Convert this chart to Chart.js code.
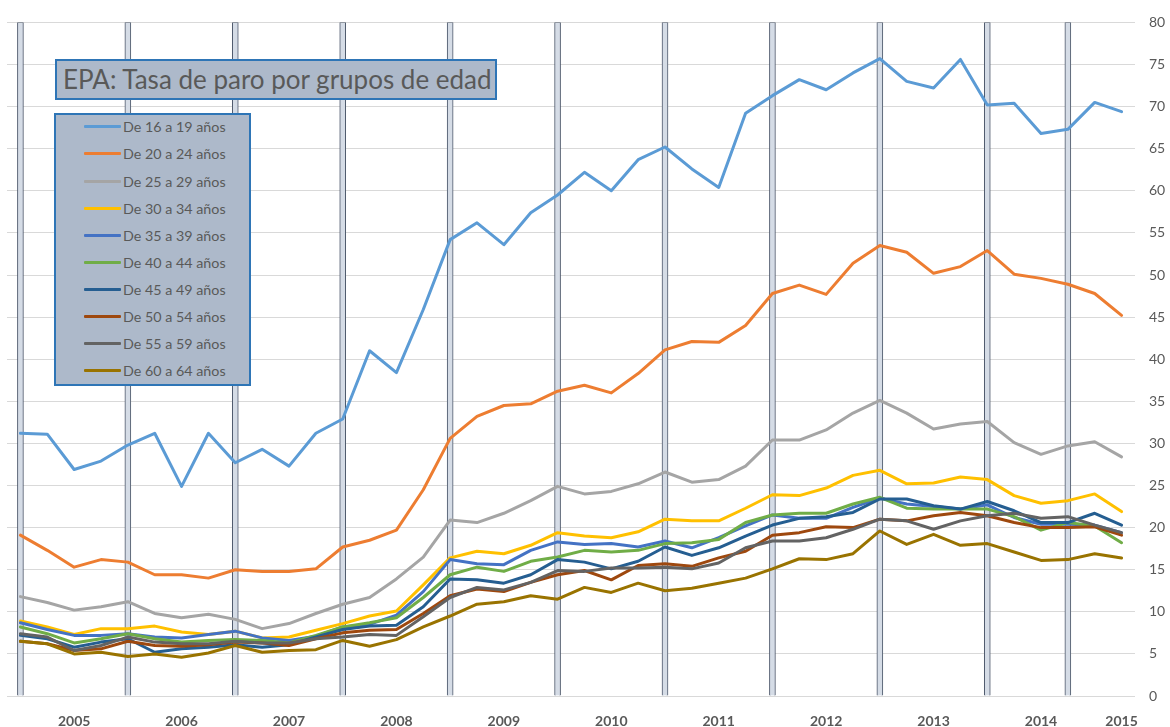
<!DOCTYPE html>
<html><head><meta charset="utf-8">
<script src="https://cdn.jsdelivr.net/npm/chart.js@4.4.0/dist/chart.umd.min.js"></script>
<style>
html,body{margin:0;padding:0;background:#fff;}
#wrap{position:relative;width:1170px;height:727px;overflow:hidden;}
#chart{position:absolute;left:0;top:0;}
#title{position:absolute;left:55px;top:59px;width:442px;height:41px;box-sizing:border-box;background:#adb9ca;border:2px solid #2e75b6;font-family:Lato,'Open Sans',sans-serif;font-size:26px;color:#595959;line-height:36px;padding-left:6px;white-space:nowrap;}
#legend{position:absolute;left:54px;top:113px;width:197px;height:273px;box-sizing:border-box;background:#adb9ca;border:2px solid #2e75b6;font-family:Lato,'Open Sans',sans-serif;font-size:14.3px;color:#595959;}
.row{position:absolute;left:0;height:20px;line-height:20px;white-space:nowrap;}
.sw{position:absolute;left:28px;top:8px;width:37px;height:3px;border-radius:1px;}
.lt{position:absolute;left:67px;top:0;}
</style></head>
<body>
<div id="wrap">
<canvas id="chart" width="1170" height="727"></canvas>
<div id="title">EPA: Tasa de paro por grupos de edad</div>
<div id="legend"></div>
</div>
<script>
const tickLabels = ['', '', '2005', '', '', '', '2006', '', '', '', '2007', '', '', '', '2008', '', '', '', '2009', '', '', '', '2010', '', '', '', '2011', '', '', '', '2012', '', '', '', '2013', '', '', '', '2014', '', '', '2015'];

const yearMarks = [80,null,null,null,80,null,null,null,80,null,null,null,80,null,null,null,80,null,null,null,80,null,null,null,80,null,null,null,80,null,null,null,80,null,null,null,80,null,null,80,null,null];

const seriesNames = ['De 16 a 19 años','De 20 a 24 años','De 25 a 29 años','De 30 a 34 años','De 35 a 39 años','De 40 a 44 años','De 45 a 49 años','De 50 a 54 años','De 55 a 59 años','De 60 a 64 años'];

const y1619 = [31.2,31.1,26.9,27.9,29.8,31.2,24.9,31.2,27.7,29.3,27.3,31.2,32.9,41.0,38.4,45.9,54.2,56.2,53.6,57.4,59.5,62.2,60.0,63.7,65.2,62.6,60.4,69.2,71.3,73.2,72.0,74.0,75.7,73.0,72.2,75.6,70.2,70.4,66.8,67.3,70.5,69.4];
const y2024 = [19.1,17.3,15.3,16.2,15.9,14.4,14.4,14.0,15.0,14.8,14.8,15.1,17.7,18.5,19.7,24.5,30.6,33.2,34.5,34.7,36.2,36.9,36.0,38.3,41.1,42.1,42.0,44.0,47.8,48.8,47.7,51.4,53.5,52.7,50.2,51.0,52.9,50.1,49.6,48.9,47.8,45.2];
const y2529 = [11.8,11.1,10.2,10.6,11.2,9.8,9.3,9.7,9.1,8.0,8.6,9.8,10.9,11.7,13.9,16.5,20.9,20.6,21.7,23.2,24.9,24.0,24.3,25.2,26.6,25.4,25.7,27.3,30.4,30.4,31.6,33.6,35.1,33.6,31.7,32.3,32.6,30.1,28.7,29.7,30.2,28.4];
const y3034 = [8.9,8.2,7.3,8.0,8.0,8.3,7.6,7.3,7.7,6.9,7.0,7.8,8.6,9.5,10.1,13.2,16.4,17.2,16.9,17.9,19.4,19.0,18.8,19.5,21.0,20.8,20.8,22.3,23.9,23.8,24.7,26.2,26.8,25.2,25.3,26.0,25.7,23.8,22.9,23.2,24.0,21.9];
const y3539 = [8.7,7.9,7.2,7.2,7.4,7.0,6.9,7.3,7.7,6.9,6.6,7.1,8.2,8.5,9.6,12.4,16.2,15.7,15.6,17.3,18.3,18.0,18.1,17.7,18.4,17.6,18.8,20.2,21.5,21.1,21.1,22.4,23.5,22.8,22.5,22.2,22.7,21.2,20.4,20.4,20.3,19.4];
const y4044 = [8.2,7.4,6.3,6.8,7.4,6.8,6.4,6.6,6.7,6.6,6.3,7.2,8.2,8.7,9.3,11.7,14.4,15.3,14.8,16.0,16.5,17.3,17.1,17.3,18.1,18.2,18.6,20.6,21.5,21.7,21.7,22.8,23.6,22.3,22.2,22.2,22.2,21.3,19.7,20.6,20.2,18.2];
const y4549 = [7.2,6.8,5.8,6.4,6.8,5.2,5.6,5.8,6.1,5.8,6.1,7.0,7.9,8.3,8.4,10.6,13.9,13.8,13.4,14.4,16.2,15.9,15.1,16.0,17.7,16.7,17.6,19.0,20.3,21.1,21.3,21.8,23.4,23.4,22.6,22.2,23.1,22.0,20.6,20.6,21.7,20.3];
const y5054 = [6.5,6.2,5.4,5.6,6.5,6.0,5.9,6.1,6.4,6.3,6.0,6.8,7.5,7.8,7.9,9.8,11.9,12.7,12.4,13.5,14.4,14.9,13.8,15.5,15.7,15.4,16.4,17.2,19.1,19.4,20.1,20.0,21.0,20.8,21.4,21.8,21.4,20.6,20.0,20.0,20.1,19.1];
const y5559 = [7.4,7.0,5.4,6.0,7.0,6.4,6.2,6.2,6.5,6.3,6.3,6.8,7.0,7.3,7.2,9.4,11.7,12.9,12.6,13.5,14.9,14.8,15.2,15.2,15.3,15.1,15.8,17.6,18.4,18.4,18.8,19.8,21.0,20.8,19.8,20.8,21.4,21.7,21.1,21.3,20.3,19.4];
const y6064 = [6.5,6.2,5.0,5.2,4.7,5.0,4.6,5.1,6.0,5.2,5.4,5.5,6.6,5.9,6.7,8.2,9.5,10.9,11.2,11.9,11.5,12.9,12.3,13.4,12.5,12.8,13.4,14.0,15.1,16.3,16.2,16.9,19.6,18.0,19.2,17.9,18.1,17.1,16.1,16.2,16.9,16.4];

const seriesValues = [y1619,y2024,y2529,y3034,y3539,y4044,y4549,y5054,y5559,y6064];
const seriesColors = ['#5b9bd5','#ed7d31','#a5a5a5','#ffc000','#4472c4','#70ad47','#255e91','#9e480e','#636363','#997300'];

const datasets = seriesNames.map((name, i) => ({
  type: 'line',
  label: name,
  data: seriesValues[i],
  borderColor: seriesColors[i],
  backgroundColor: seriesColors[i],
  borderWidth: 3,
  pointRadius: 0,
  tension: 0,
  fill: false,
  borderJoinStyle: 'round',
  borderCapStyle: 'round',
  order: 20 - i
}));
datasets.push({
  type: 'bar',
  label: 'Años',
  data: yearMarks,
  backgroundColor: '#d5dce6',
  borderColor: '#4b5669',
  borderWidth: 1,
  barThickness: 6,
  order: 100
});

new Chart(document.getElementById('chart'), {
  data: { labels: tickLabels, datasets },
  options: {
    responsive: false,
    animation: false,
    layout: { padding: { left: 7, top: 19, right: 0, bottom: 0 } },
    plugins: { legend: { display: false }, tooltip: { enabled: false }, title: { display: false } },
    scales: {
      x: {
        type: 'category',
        offset: true,
        grid: { display: false },
        border: { display: false },
        ticks: { autoSkip: false, maxRotation: 0, minRotation: 0, padding: 9,
          color: '#595959', font: { family: 'Lato', size: 14, weight: 'bold' } },
        afterFit: (s) => { s.height = 31; }
      },
      y: {
        position: 'right',
        min: 0, max: 80,
        grid: { color: '#d9d9d9', lineWidth: 1, drawTicks: false },
        border: { display: false },
        ticks: { stepSize: 5, padding: 14, color: '#595959', font: { family: 'Lato', size: 14 } },
        afterFit: (s) => { s.width = 35; }
      }
    }
  }
});

const leg = document.getElementById('legend');
seriesNames.forEach((name, i) => {
  const row = document.createElement('div');
  row.className = 'row';
  row.style.top = (14.3 + 27.1 * i - 2 - 10) + 'px';
  row.innerHTML = '<span class="sw" style="background:' + seriesColors[i] + '"></span><span class="lt"></span>';
  row.querySelector('.lt').textContent = name;
  leg.appendChild(row);
});
</script>
</body></html>
